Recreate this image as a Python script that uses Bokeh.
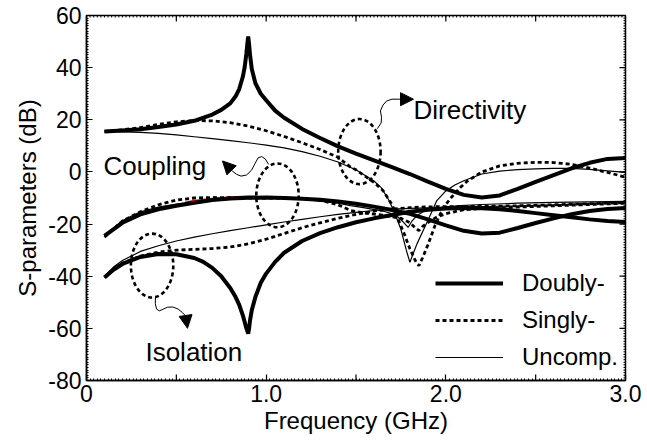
from bokeh.plotting import figure
from bokeh.models import Range1d, FixedTicker, Legend, LegendItem, Arrow, NormalHead, Label
from bokeh.embed import file_html
from bokeh.resources import INLINE

FONT = "Liberation Sans"

# ---------------- data ----------------
# Directivity
dir_d_x = [0.1, 0.2, 0.3, 0.4, 0.5, 0.6, 0.7, 0.75, 0.8, 0.83, 0.85, 0.87, 0.88, 0.89, 0.895, 0.9, 0.905, 0.91, 0.92, 0.94,
           0.97, 1.0, 1.05, 1.1, 1.2, 1.3, 1.4, 1.5, 1.6, 1.7, 1.8, 1.9, 2.0, 2.1, 2.2, 2.3, 2.4, 2.5, 2.6, 2.7, 2.8, 2.9, 3.0]
dir_d_y = [15.5, 15.9, 16.4, 17.2, 18.2, 19.6, 22.0, 23.8, 26.3, 29.0, 31.8, 36.5, 40.0, 45.5, 49.0, 52.0, 49.0, 45.0, 39.5, 34.0,
           30.0, 27.5, 23.5, 20.8, 16.5, 13.0, 9.8, 7.0, 4.4, 1.8, -0.8, -3.7, -6.5, -8.8, -9.8, -9.0, -6.5, -3.8, -1.2, 1.4, 3.5, 5.0, 5.3]

dir_s_x = [0.1, 0.2, 0.3, 0.4, 0.5, 0.6, 0.7, 0.8, 0.9, 1.0, 1.1, 1.2, 1.3, 1.4, 1.47, 1.5, 1.6, 1.65, 1.7, 1.73, 1.77,
           1.8, 1.83, 1.85, 1.87, 1.9, 1.94, 1.97, 2.0, 2.03, 2.08, 2.12, 2.2, 2.3, 2.4, 2.5, 2.6, 2.7, 2.8, 2.9, 3.0]
dir_s_y = [15.5, 16.2, 17.0, 18.2, 19.2, 19.7, 19.6, 18.9, 17.6, 15.8, 13.6, 11.2, 8.6, 5.6, 1.8, 0.8, -4.0, -7.1, -12.5, -17.5, -24.0,
           -29.5, -34.0, -36.0, -33.0, -28.0, -20.5, -16.0, -12.5, -9.8, -6.0, -3.5, 0.0, 2.3, 3.3, 3.7, 3.6, 2.9, 1.5, -0.2, -2.0]

dir_u_x = [0.1, 0.2, 0.3, 0.4, 0.5, 0.6, 0.7, 0.8, 0.9, 1.0, 1.1, 1.2, 1.3, 1.4, 1.47, 1.5, 1.6, 1.64, 1.68, 1.71, 1.75,
           1.78, 1.8, 1.82, 1.84, 1.87, 1.9, 1.95, 2.0, 2.05, 2.1, 2.2, 2.3, 2.4, 2.5, 2.6, 2.7, 2.8, 2.9, 3.0]
dir_u_y = [15.5, 15.4, 15.2, 14.8, 14.2, 13.5, 12.8, 12.0, 11.2, 10.3, 9.2, 7.8, 6.0, 3.8, 1.7, 0.8, -3.5, -6.0, -10.5, -14.8, -22.0,
           -30.0, -34.7, -31.0, -27.5, -23.0, -18.6, -11.0, -7.3, -5.0, -3.4, -0.8, 0.3, 0.9, 1.2, 1.4, 1.4, 1.0, 0.4, -0.2]

# Coupling
cpl_d_x = [0.1, 0.2, 0.3, 0.4, 0.5, 0.6, 0.7, 0.8, 0.9, 1.0, 1.1, 1.2, 1.3, 1.4, 1.5, 1.6, 1.7, 1.8, 1.9, 2.0,
           2.1, 2.2, 2.3, 2.4, 2.5, 2.6, 2.7, 2.8, 2.9, 3.0]
cpl_d_y = [-24.5, -19.5, -16.3, -14.3, -13.0, -11.8, -10.8, -10.2, -9.9, -9.8, -10.0, -10.3, -10.7, -11.3, -12.2, -13.3, -14.6, -16.1, -18.2, -20.5,
           -22.6, -23.6, -23.3, -21.5, -19.6, -17.8, -16.2, -15.0, -14.2, -13.8]

cpl_s_x = [0.1, 0.2, 0.3, 0.4, 0.5, 0.6, 0.7, 0.8, 0.9, 1.0, 1.1, 1.2, 1.3, 1.4, 1.47, 1.55, 1.65, 1.75, 1.8, 1.83, 1.85,
           1.87, 1.9, 1.95, 2.0, 2.1, 2.2, 2.3, 2.4, 2.6, 2.8, 3.0]
cpl_s_y = [-25.0, -18.8, -15.3, -12.6, -10.8, -10.0, -9.8, -9.9, -10.0, -10.0, -10.0, -10.2, -10.9, -12.6, -14.8, -15.8, -16.6, -17.8, -19.5, -21.5, -22.5,
           -21.0, -19.4, -17.3, -16.0, -14.5, -14.0, -13.8, -13.5, -13.0, -12.5, -12.0]

cpl_u_x = [0.1, 0.2, 0.3, 0.4, 0.5, 0.6, 0.7, 0.8, 0.9, 1.0, 1.1, 1.2, 1.3, 1.4, 1.47, 1.55, 1.65, 1.72, 1.76, 1.79, 1.81,
           1.84, 1.88, 1.93, 2.0, 2.08, 2.2, 2.4, 2.6, 2.8, 3.0]
cpl_u_y = [-24.5, -18.6, -15.3, -13.5, -12.3, -11.5, -10.9, -10.5, -10.2, -10.0, -10.0, -10.4, -11.2, -12.0, -12.9, -13.8, -15.0, -16.5, -19.0, -21.3, -19.0,
           -16.7, -15.0, -14.0, -13.4, -12.9, -12.5, -12.0, -11.7, -11.5, -11.3]

# faint reference trace visible in red along the coupling curve
cpl_ref_x = [0.55, 0.6, 0.7, 0.8, 0.9, 0.95]
cpl_ref_y = [-11.6, -11.0, -10.2, -9.6, -9.3, -9.3]

# Isolation
iso_d_x = [0.1, 0.15, 0.2, 0.3, 0.4, 0.5, 0.6, 0.65, 0.7, 0.75, 0.8, 0.83, 0.85, 0.87, 0.88, 0.89, 0.9, 0.905, 0.91, 0.92,
           0.94, 0.97, 1.0, 1.05, 1.1, 1.2, 1.3, 1.4, 1.5, 1.6, 1.7, 1.8, 1.9, 2.0, 2.1, 2.2, 2.3, 2.4, 2.5, 2.6, 2.7, 2.8, 2.9, 3.0]
iso_d_y = [-40.5, -37.5, -35.3, -32.6, -31.5, -31.6, -33.0, -34.5, -36.8, -40.0, -44.5, -48.0, -51.0, -55.0, -57.5, -60.0, -62.0, -60.0, -57.0, -53.0,
           -48.0, -42.5, -39.0, -34.5, -31.0, -26.5, -23.5, -21.2, -19.3, -17.8, -16.5, -15.3, -14.5, -14.0, -13.8, -13.9, -14.3, -15.0, -15.8, -16.6, -17.4, -18.2, -18.8, -19.2]

iso_s_x = [0.1, 0.15, 0.2, 0.3, 0.4, 0.5, 0.6, 0.7, 0.8, 0.9, 1.0, 1.1, 1.2, 1.3, 1.4, 1.5, 1.6, 1.7, 1.8, 1.9,
           2.0, 2.2, 2.4, 2.6, 2.8, 3.0]
iso_s_y = [-40.5, -37.3, -35.0, -32.3, -30.8, -30.0, -29.7, -29.4, -28.8, -27.6, -25.8, -23.6, -21.4, -19.5, -17.8, -16.3, -15.0, -14.2, -13.7, -13.4,
           -13.3, -13.2, -13.0, -12.6, -12.2, -11.8]

iso_u_x = [0.1, 0.15, 0.2, 0.3, 0.4, 0.5, 0.6, 0.7, 0.8, 0.9, 1.0, 1.1, 1.2, 1.3, 1.4, 1.5, 1.6, 1.7, 1.8, 1.9,
           2.0, 2.2, 2.4, 2.6, 2.8, 3.0]
iso_u_y = [-40.0, -36.5, -34.0, -30.5, -28.3, -26.5, -25.0, -23.7, -22.5, -21.4, -20.3, -19.2, -18.2, -17.2, -16.3, -15.5, -14.8, -14.3, -14.0, -13.8,
           -13.6, -13.3, -13.0, -12.6, -12.1, -11.5]

x_ticks = [0.0, 1.0, 2.0, 3.0]
x_tick_labels = ["0", "1.0", "2.0", "3.0"]
x_half_ticks = [0.5, 1.5, 2.5]
y_ticks = [-80, -60, -40, -20, 0, 20, 40, 60]
y_tick_labels = ["-80", "-60", "-40", "-20", "0", "20", "40", "60"]

legend_labels = ["Doubly-", "Singly-", "Uncomp."]

# annotations (ellipses around curve groups, curly arrows, texts)
ell_x = [1.063, 1.519, 0.365]
ell_y = [-9.0, 7.8, -35.9]
ell_w = [0.236, 0.236, 0.236]
ell_h = [24.5, 25.0, 24.5]

dir_arrow_x = [1.619, 1.640, 1.642, 1.636, 1.650, 1.670, 1.700, 1.735]
dir_arrow_y = [16.6, 18.8, 21.0, 23.4, 25.6, 27.2, 27.9, 27.9]
dir_head = (1.735, 27.9, 1.82, 27.9)

cpl_arrow_x = [1.013, 0.995, 0.975, 0.955, 0.938, 0.918, 0.890, 0.860, 0.835, 0.812]
cpl_arrow_y = [2.9, 5.0, 5.9, 5.4, 3.2, 0.6, -1.2, -1.6, -0.9, 0.3]
cpl_head = (0.812, 0.3, 0.757, 4.2)

iso_arrow_x = [0.384, 0.383, 0.390, 0.405, 0.425, 0.450, 0.480, 0.510, 0.535, 0.552]
iso_arrow_y = [-47.8, -50.5, -52.6, -53.3, -52.7, -51.9, -51.8, -52.6, -54.0, -55.3]
iso_head = (0.552, -55.3, 0.562, -60.0)

texts = ["Directivity", "Coupling", "Isolation"]
text_x = [1.82, 0.095, 0.328]
text_y = [23.6, 2.1, -68.9]

# ---------------- figure ----------------
X0, X1, Y0, Y1 = 0.0, 3.0, -80.0, 60.0
FRAME_W, FRAME_H = 539, 365
p = figure(width=647, height=447, output_backend="svg", toolbar_location=None,
           x_range=Range1d(X0, X1), y_range=Range1d(Y0, Y1),
           min_border_left=86, min_border_right=22, min_border_top=15, min_border_bottom=67,
           background_fill_color="white", border_fill_color="white")
p.grid.visible = False
p.outline_line_color = "black"
p.outline_line_width = 1.5

x_minor = [round(i * 0.02, 2) for i in range(0, 151)]
y_minor = [v for v in range(-80, 61, 1)]

def style_axis(ax, ticker, overrides):
    ax.ticker = ticker
    ax.major_tick_in = 6
    ax.major_tick_out = 0
    ax.minor_tick_in = 2
    ax.minor_tick_out = 0
    ax.major_tick_line_color = "black"
    ax.minor_tick_line_color = "black"
    ax.axis_line_color = "black"
    ax.axis_line_width = 1.5
    ax.major_tick_line_width = 1.2
    ax.minor_tick_line_width = 1
    ax.major_label_overrides = overrides
    ax.major_label_text_font = FONT
    ax.major_label_text_font_size = "23px"
    ax.major_label_text_color = "black"
    ax.axis_label_text_font = FONT
    ax.axis_label_text_font_size = "24px"
    ax.axis_label_text_font_style = "normal"
    ax.axis_label_text_color = "black"

xax = p.xaxis[0]
style_axis(xax, FixedTicker(ticks=x_ticks, minor_ticks=x_minor), {t: l for t, l in zip(x_ticks, x_tick_labels)})
xax.major_label_standoff = 4
xax.axis_label = "Frequency (GHz)"
xax.axis_label_standoff = 2

yax = p.yaxis[0]
style_axis(yax, FixedTicker(ticks=y_ticks, minor_ticks=y_minor), {t: l for t, l in zip(y_ticks, y_tick_labels)})
yax.major_label_standoff = 5
yax.axis_label = "S-parameters (dB)"
yax.axis_label_standoff = 4

# inward ticks on the top and right frame edges and the half-GHz ticks (px lengths -> data units)
dx = (X1 - X0) / FRAME_W
dy = (Y1 - Y0) / FRAME_H
top_major = x_ticks + x_half_ticks
p.segment(x0=top_major, y0=[Y1] * len(top_major), x1=top_major, y1=[Y1 - 6 * dy] * len(top_major),
          line_color="black", line_width=1.2)
p.segment(x0=x_half_ticks, y0=[Y0] * 3, x1=x_half_ticks, y1=[Y0 + 6 * dy] * 3, line_color="black", line_width=1.2)
p.segment(x0=x_minor, y0=[Y1] * len(x_minor), x1=x_minor, y1=[Y1 - 2 * dy] * len(x_minor),
          line_color="black", line_width=1)
p.segment(x0=[X1] * len(y_ticks), y0=y_ticks, x1=[X1 - 6 * dx] * len(y_ticks), y1=y_ticks,
          line_color="black", line_width=1.2)
p.segment(x0=[X1] * len(y_minor), y0=y_minor, x1=[X1 - 2 * dx] * len(y_minor), y1=y_minor,
          line_color="black", line_width=1)

# ---------------- curves ----------------
THIN = dict(line_color="black", line_width=1.2)
DASH = dict(line_color="black", line_width=2.8, line_dash="4 3")
THICK = dict(line_color="black", line_width=4)

p.line(cpl_ref_x, cpl_ref_y, line_color="red", line_width=1.5)
r_u = p.line(dir_u_x, dir_u_y, **THIN)
p.line(cpl_u_x, cpl_u_y, **THIN)
p.line(iso_u_x, iso_u_y, **THIN)
r_s = p.line(dir_s_x, dir_s_y, **DASH)
p.line(cpl_s_x, cpl_s_y, **DASH)
p.line(iso_s_x, iso_s_y, **DASH)
r_d = p.line(dir_d_x, dir_d_y, **THICK)
p.line(cpl_d_x, cpl_d_y, **THICK)
p.line(iso_d_x, iso_d_y, **THICK)

# ---------------- annotations ----------------
p.ellipse(x=ell_x, y=ell_y, width=ell_w, height=ell_h, fill_alpha=0,
          line_color="black", line_width=2.6, line_dash="4 3")

for ax_, ay_, hd in [(dir_arrow_x, dir_arrow_y, dir_head), (cpl_arrow_x, cpl_arrow_y, cpl_head),
                     (iso_arrow_x, iso_arrow_y, iso_head)]:
    p.line(ax_, ay_, line_color="black", line_width=1)
    p.add_layout(Arrow(end=NormalHead(size=13, fill_color="black", line_color="black"),
                       x_start=hd[0], y_start=hd[1], x_end=hd[2], y_end=hd[3],
                       line_color="black", line_width=1))

for t, tx, ty in zip(texts, text_x, text_y):
    p.add_layout(Label(x=tx, y=ty, text=t, text_font=FONT, text_font_size="26px",
                       text_color="black", text_baseline="alphabetic"))

legend = Legend(items=[LegendItem(label=legend_labels[0], renderers=[r_d]),
                       LegendItem(label=legend_labels[1], renderers=[r_s]),
                       LegendItem(label=legend_labels[2], renderers=[r_u])],
                location=(349, 8), orientation="vertical",
                glyph_width=68, glyph_height=30, spacing=7, padding=0, margin=0,
                label_standoff=19, label_text_font=FONT, label_text_font_size="24px",
                label_text_color="black",
                border_line_alpha=0, background_fill_alpha=0)
p.add_layout(legend, "center")

open("out.html", "w").write(file_html(p, INLINE))
